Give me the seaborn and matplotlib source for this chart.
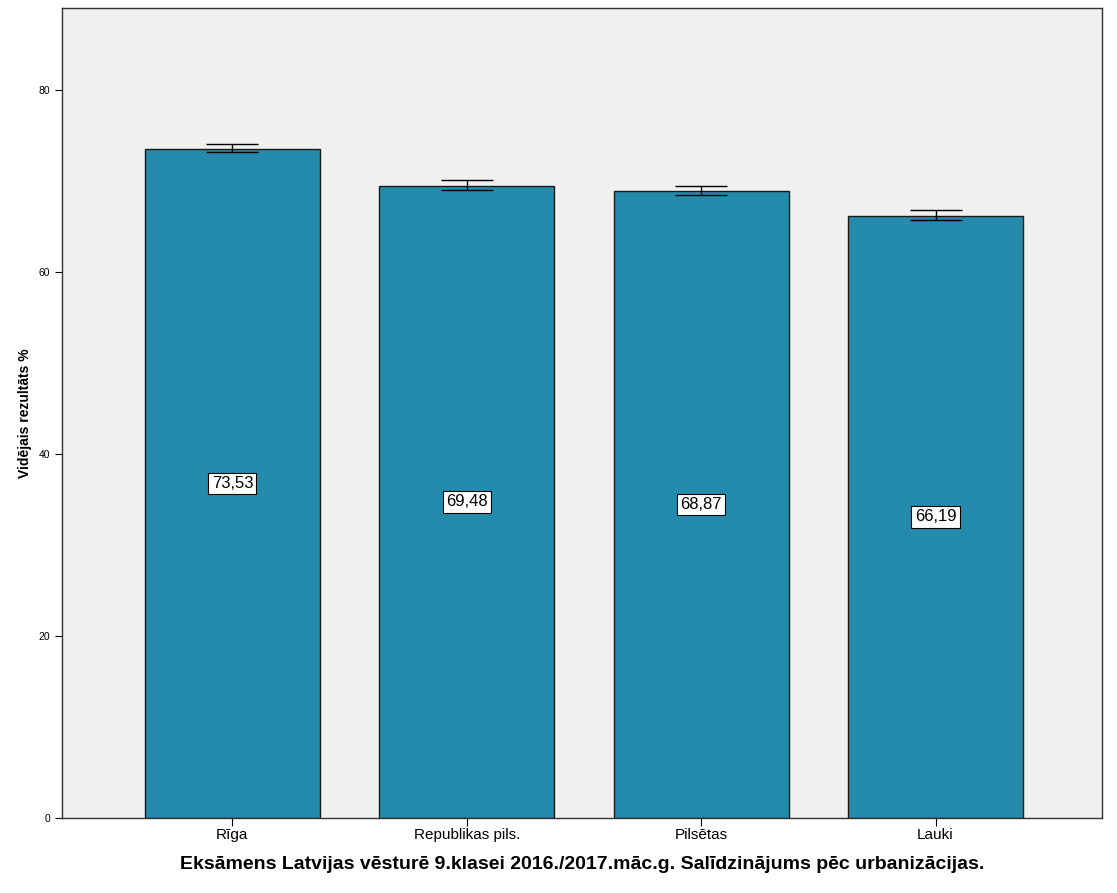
import pandas as pd
import matplotlib
matplotlib.use("Agg")
import matplotlib.pyplot as plt
import seaborn as sns

# data
regions = ["Rīga", "Republikas pils.", "Pilsētas", "Lauki"]
means = [73.53, 69.48, 68.87, 66.19]
err_low = [0.40, 0.50, 0.45, 0.50]
err_high = [0.48, 0.60, 0.55, 0.60]
y_ticks = [0, 20, 40, 60, 80]

df = pd.DataFrame({"region": regions, "mean": means})

sns.set_style("white")
plt.rcParams["font.family"] = ["Liberation Sans", "DejaVu Sans"]
plt.rcParams["text.color"] = "black"
plt.rcParams["axes.labelcolor"] = "black"
plt.rcParams["xtick.color"] = "black"
plt.rcParams["ytick.color"] = "black"

fig = plt.figure(figsize=(11.17, 8.93), dpi=100)
ax = fig.add_axes([0.0555, 0.084, 0.931, 0.907])
ax.set_facecolor("#f0f0f0")

sns.barplot(data=df, x="region", y="mean", color="#248bac", saturation=1,
            width=0.746, edgecolor="#1a1a1a", linewidth=1, errorbar=None, ax=ax)

ax.errorbar(range(len(regions)), means, yerr=[err_low, err_high], fmt="none",
            ecolor="black", elinewidth=1, capsize=19, capthick=1)

# value labels in the middle of each bar
for i, v in enumerate(means):
    ax.text(i, v / 2, f"{v:.2f}".replace(".", ","), ha="center", va="center",
            fontsize=12, color="black",
            bbox=dict(boxstyle="square,pad=0.2", fc="white", ec="black", lw=0.8))

ax.set_xlim(-0.727, 3.71)
ax.set_ylim(0, 89)
ax.set_yticks(y_ticks)
ax.tick_params(axis="y", labelsize=7.5, length=5, width=0.8, direction="out", left=True)
ax.tick_params(axis="x", labelsize=11, length=6, width=0.8, pad=1.5, direction="out", bottom=True)
for s in ax.spines.values():
    s.set_color("#333333")
    s.set_linewidth(1)

ax.set_ylabel("Vidējais rezultāts %", fontsize=10, fontweight="bold", labelpad=5)
ax.set_xlabel("Eksāmens Latvijas vēsturē 9.klasei 2016./2017.māc.g. Salīdzinājums pēc urbanizācijas.",
              fontsize=14, fontweight="bold", labelpad=10)

fig.savefig("out.png", dpi=100, facecolor="white")
